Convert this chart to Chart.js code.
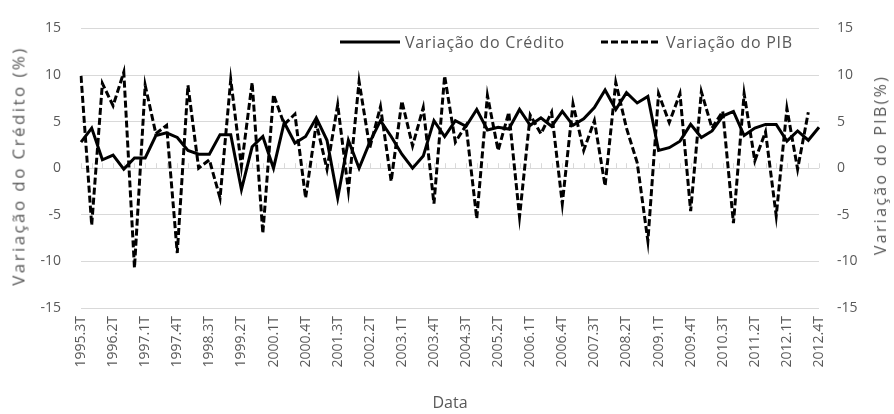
<!DOCTYPE html>
<html>
<head>
<meta charset="utf-8">
<script src="https://cdn.jsdelivr.net/npm/chart.js@4.4.0/dist/chart.umd.min.js"></script>
<style>
  body { margin: 0; background: #fff; }
  #wrap { position: relative; width: 894px; height: 414px; }
  .legend { position: absolute; top: 31px; font-family: 'Open Sans', sans-serif; font-size: 16px; letter-spacing: 0.7px; color: #595959; display: flex; align-items: center; white-space: nowrap; }
  .legend svg { margin-right: 5px; }
  .vtitle { position: absolute; font-family: 'Open Sans', sans-serif; color: #595959; white-space: nowrap; transform: translate(-50%, -50%) rotate(-90deg); }
</style>
</head>
<body>
<div id="wrap">
  <canvas id="chart" width="894" height="414"></canvas>
  <div class="legend" style="left:340px">
    <svg width="60" height="6"><line x1="0" y1="3" x2="60" y2="3" stroke="#000" stroke-width="3"></line></svg>Variação do Crédito
  </div>
  <div class="legend" style="left:601px">
    <svg width="60" height="6"><line x1="0" y1="3" x2="60" y2="3" stroke="#000" stroke-width="3" stroke-dasharray="7 3"></line></svg>Variação do PIB
  </div>
  <div class="vtitle" style="left:18px; top:166px; font-size:17px; letter-spacing:2.4px">Variação do Crédito (%)</div>
  <div class="vtitle" style="left:880px; top:165px; font-size:16px; letter-spacing:2.3px">Variação do PIB(%)</div>
</div>
<script>
// quarters, 1995.3T .. 2012.4T
const quarters = [
  '1995.3T','1995.4T',
  '1996.1T','1996.2T','1996.3T','1996.4T',
  '1997.1T','1997.2T','1997.3T','1997.4T',
  '1998.1T','1998.2T','1998.3T','1998.4T',
  '1999.1T','1999.2T','1999.3T','1999.4T',
  '2000.1T','2000.2T','2000.3T','2000.4T',
  '2001.1T','2001.2T','2001.3T','2001.4T',
  '2002.1T','2002.2T','2002.3T','2002.4T',
  '2003.1T','2003.2T','2003.3T','2003.4T',
  '2004.1T','2004.2T','2004.3T','2004.4T',
  '2005.1T','2005.2T','2005.3T','2005.4T',
  '2006.1T','2006.2T','2006.3T','2006.4T',
  '2007.1T','2007.2T','2007.3T','2007.4T',
  '2008.1T','2008.2T','2008.3T','2008.4T',
  '2009.1T','2009.2T','2009.3T','2009.4T',
  '2010.1T','2010.2T','2010.3T','2010.4T',
  '2011.1T','2011.2T','2011.3T','2011.4T',
  '2012.1T','2012.2T','2012.3T','2012.4T'
];

// credit growth (%) - solid line
const credito = [
  2.8, 4.3,
  0.9, 1.4, -0.1, 1.1,
  1.1, 3.5, 3.8, 3.3,
  1.9, 1.5, 1.5, 3.6,
  3.6, -2.3, 2.3, 3.4,
  0.0, 4.9, 2.7, 3.4,
  5.4, 3.0, -3.2, 3.0,
  0.0, 2.8, 5.1, 3.4,
  1.5, 0.0, 1.3, 5.1,
  3.4, 5.1, 4.5, 6.3,
  4.1, 4.4, 4.2, 6.3,
  4.6, 5.4, 4.5, 6.1,
  4.6, 5.3, 6.5, 8.4,
  6.3, 8.1, 7.0, 7.7,
  1.9, 2.2, 2.9, 4.7,
  3.3, 4.0, 5.6, 6.1,
  3.5, 4.3, 4.7, 4.7,
  2.9, 4.0, 3.0, 4.4
];

// GDP growth (%) - dashed line, no value for the last quarter
const pib = [
  9.9, -6.1,
  9.1, 6.7, 10.3, -10.7,
  8.9, 3.7, 4.6, -9.1,
  8.9, 0.0, 0.9, -3.2,
  9.5, 0.2, 9.2, -7.0,
  7.9, 4.7, 5.8, -3.2,
  4.8, -0.1, 6.8, -2.4,
  9.3, 2.2, 6.6, -1.4,
  7.2, 2.4, 6.5, -3.8,
  9.9, 2.8, 4.6, -5.4,
  7.8, 1.9, 6.0, -5.2,
  5.7, 3.7, 6.0, -3.8,
  6.9, 1.9, 5.1, -1.9,
  9.2, 4.3, 0.6, -7.8,
  8.0, 4.9, 8.0, -4.6,
  8.2, 4.3, 6.1, -5.9,
  8.0, 0.8, 3.9, -5.1,
  6.4, -0.1, 6.0, null
];

const yTicks = [-15, -10, -5, 0, 5, 10, 15];

const grey = '#595959';
const tickFont = { family: 'Open Sans', size: 14 };

// small tick marks on the zero line, like the excel category axis
const zeroTicks = {
  id: 'zeroTicks',
  beforeDatasetsDraw(chart) {
    const ctx = chart.ctx;
    const x = chart.scales.x;
    const y0 = chart.scales.y.getPixelForValue(0);
    ctx.save();
    ctx.strokeStyle = '#d9d9d9';
    ctx.lineWidth = 1;
    ctx.beginPath();
    for (let i = 0; i < quarters.length; i++) {
      const px = Math.round(x.getPixelForValue(i)) + 0.5;
      ctx.moveTo(px, y0);
      ctx.lineTo(px, y0 - 5);
    }
    ctx.stroke();
    ctx.restore();
  }
};

const ctx = document.getElementById('chart').getContext('2d');
const myChart = new Chart(ctx, {
  type: 'line',
  data: {
    labels: quarters,
    datasets: [{
      label: 'Variação do Crédito',
      data: credito,
      borderColor: '#000',
      borderWidth: 3,
      pointRadius: 0,
      tension: 0,
      yAxisID: 'y',
    }, {
      label: 'Variação do PIB',
      data: pib,
      borderColor: '#000',
      borderWidth: 3,
      borderDash: [7, 3],
      pointRadius: 0,
      tension: 0,
      spanGaps: false,
      yAxisID: 'y1',
    }],
  },
  options: {
    responsive: false,
    animation: false,
    layout: { padding: { top: 19 } },
    plugins: {
      legend: { display: false },
      tooltip: { enabled: false },
    },
    scales: {
      x: {
        offset: false,
        grid: { display: false, drawTicks: false },
        border: { display: false },
        ticks: {
          autoSkip: false,
          maxRotation: 90,
          minRotation: 90,
          padding: 8,
          color: grey,
          font: { family: 'Open Sans', size: 14 },
          callback: (v, i) => (i % 3 === 0 ? quarters[i] : ''),
        },
        title: {
          display: true,
          text: 'Data',
          color: grey,
          font: { family: 'Open Sans', size: 16 },
          padding: { top: 0, bottom: 1 },
        },
        afterFit: (s) => { s.height = 106; },
      },
      y: {
        position: 'left',
        min: -15,
        max: 15,
        afterBuildTicks: (s) => { s.ticks = yTicks.map((v) => ({ value: v })); },
        grid: { color: '#d9d9d9', drawTicks: false },
        border: { display: false },
        ticks: { color: grey, font: tickFont, padding: 20 },
        afterFit: (s) => { s.width = 81; },
      },
      y1: {
        position: 'right',
        min: -15,
        max: 15,
        afterBuildTicks: (s) => { s.ticks = yTicks.map((v) => ({ value: v })); },
        grid: { display: false, drawTicks: false },
        border: { display: false },
        ticks: { color: grey, font: tickFont, padding: 18 },
        afterFit: (s) => { s.width = 75; },
      },
    },
  },
  plugins: [zeroTicks],
});
</script>
</body>
</html>
